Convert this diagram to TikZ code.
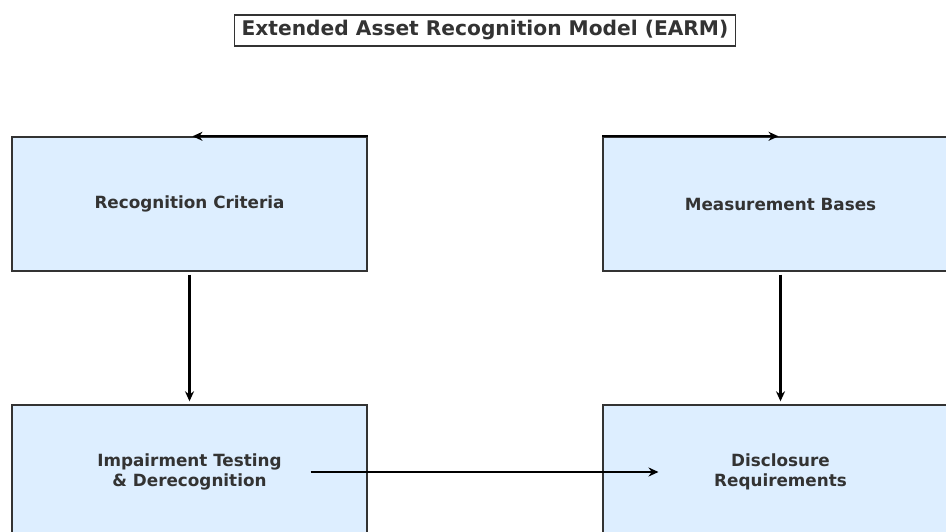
\documentclass[tikz,border=0pt]{standalone}
\usepackage{fontspec}
\setmainfont{DejaVu Sans}
\usetikzlibrary{arrows.meta,calc}
\definecolor{boxfill}{HTML}{DDEEFF}
\definecolor{inkgrey}{HTML}{333333}
\tikzset{
  x=1pt, y=-1pt,
  stagebox/.style={draw=inkgrey, line width=1.4pt, fill=boxfill,
    minimum width=355pt, minimum height=134pt, inner sep=0pt,
    align=center, text=inkgrey,
    font=\bfseries\fontsize{16.8}{20}\selectfont},
  titlebox/.style={draw=inkgrey, line width=1.4pt, fill=white,
    inner xsep=7pt, inner ysep=5.5pt, text=inkgrey,
    font=\bfseries\fontsize{20.2}{24}\selectfont},
  flow/.style={draw=black, line width=2.2pt,
    -{Stealth[length=10pt,width=9pt]}}
}
\begin{document}
\begin{tikzpicture}
\useasboundingbox (0,0) rectangle (946,532);
\clip (0,0) rectangle (946,532);
\fill[white] (0,0) rectangle (946,532);

% title
\node[titlebox] (title) at (485,30.5) {Extended Asset Recognition Model (EARM)};

% stages
\node[stagebox] (rec)  at (189.5,204) {Recognition Criteria};
\node[stagebox] (meas) at (780.5,204) {Measurement Bases};
\node[stagebox] (imp)  at (189.5,472) {Impairment Testing\\\& Derecognition};
\node[stagebox] (disc) at (780.5,472) {Disclosure\\Requirements};

% connectors
\draw[flow] (rec.north east) -- ($(rec.north)+(3,0)$);
\draw[flow] (meas.north west) -- ($(meas.north)+(-2,0)$);
\draw[flow] ($(rec.south)+(0,3)$) -- ($(imp.north)+(0,-3)$);
\draw[flow] ($(meas.south)+(0,3)$) -- ($(disc.north)+(0,-3)$);
\draw[flow] ($(imp.center)+(121,0)$) -- ($(disc.center)+(-122,0)$);
\end{tikzpicture}
\end{document}
